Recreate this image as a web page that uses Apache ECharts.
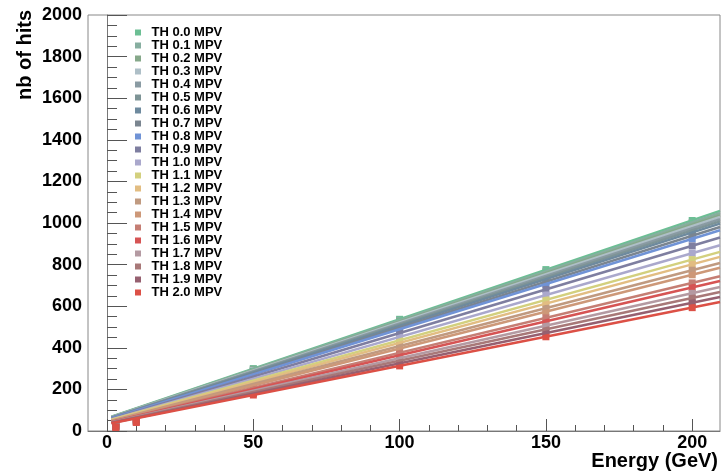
<!DOCTYPE html>
<html><head><meta charset="utf-8">
<script src="https://cdn.jsdelivr.net/npm/echarts@6/dist/echarts.min.js"></script>
<style>html,body{margin:0;padding:0;background:#fff}#c{width:722px;height:473px}</style>
</head><body><div id="c"></div>
<script>
const energies = [3, 10, 50, 100, 150, 200];
const thresholds = ['TH 0.0 MPV','TH 0.1 MPV','TH 0.2 MPV','TH 0.3 MPV','TH 0.4 MPV','TH 0.5 MPV','TH 0.6 MPV','TH 0.7 MPV','TH 0.8 MPV','TH 0.9 MPV','TH 1.0 MPV','TH 1.1 MPV','TH 1.2 MPV','TH 1.3 MPV','TH 1.4 MPV','TH 1.5 MPV','TH 1.6 MPV','TH 1.7 MPV','TH 1.8 MPV','TH 1.9 MPV','TH 2.0 MPV'];
const colors = ['#6cbf94','#87aea0','#86a88a','#aebfc7','#8a9ba3','#7e9496','#6e8a9e','#7a8590','#7093d6','#7e7ea0','#aaa8cc','#d3d07e','#e2bd82','#c09a80','#cd9878','#c57e74','#d65454','#b49aa2','#a87878','#966070','#dc5046'];
// hits per threshold at the energies above
const th00 = [45, 90, 300, 537, 776, 1012];
const th01 = [44, 89, 297, 532, 768, 1003];
const th02 = [43, 87, 293, 526, 759, 993];
const th03 = [42, 86, 291, 522, 754, 985];
const th04 = [41, 84, 287, 516, 745, 974];
const th05 = [40, 83, 284, 511, 738, 965];
const th06 = [39, 81, 281, 505, 730, 954];
const th07 = [38, 79, 276, 497, 718, 939];
const th08 = [37, 77, 271, 489, 706, 924];
const th09 = [35, 74, 262, 471, 681, 890];
const th10 = [33, 70, 251, 452, 654, 855];
const th11 = [31, 67, 242, 436, 630, 824];
const th12 = [29, 64, 235, 424, 612, 801];
const th13 = [28, 61, 226, 409, 591, 773];
const th14 = [26, 58, 219, 397, 574, 751];
const th15 = [24, 55, 208, 376, 544, 712];
const th16 = [22, 52, 201, 364, 527, 690];
const th17 = [21, 49, 193, 350, 506, 662];
const th18 = [20, 47, 187, 338, 489, 639];
const th19 = [18, 44, 180, 325, 471, 616];
const th20 = [17, 41, 173, 313, 453, 593];
const hits = [th00,th01,th02,th03,th04,th05,th06,th07,th08,th09,th10,th11,th12,th13,th14,th15,th16,th17,th18,th19,th20];
// linear fit lines: value at fit start and end energy
const fitRange = [1.5, 209.5];
const fitStart = [69, 68, 67, 66, 65, 64, 63, 62, 61, 58, 56, 54, 52, 49, 47, 45, 43, 42, 41, 38, 37];
const fitEnd = [1058, 1048, 1037, 1029, 1018, 1008, 997, 981, 965, 930, 893, 861, 837, 808, 785, 744, 721, 692, 668, 644, 620];
const xTicks = [0, 50, 100, 150, 200];
const yTicks = [0, 200, 400, 600, 800, 1000, 1200, 1400, 1600, 1800, 2000];

const FONT = 'Liberation Sans, Arial, Helvetica, sans-serif';
const series = [];
thresholds.forEach((name, i) => {
  series.push({
    type: 'line', name: name + ' fit', xAxisIndex: 0, yAxisIndex: 0,
    data: [[fitRange[0], fitStart[i]], [fitRange[1], fitEnd[i]]],
    showSymbol: false, symbol: 'none', silent: true,
    lineStyle: { color: colors[i], width: 2.5 }, itemStyle: { color: colors[i] },
    animation: false
  });
  series.push({
    type: 'scatter', name: name, xAxisIndex: 0, yAxisIndex: 0,
    data: energies.map((e, k) => [e, hits[i][k]]),
    symbol: 'rect', symbolSize: 7,
    itemStyle: { color: colors[i], opacity: 1 },
    animation: false
  });
});

const plain = v => String(v);
const chart = echarts.init(document.getElementById('c'), null, { renderer: 'canvas' });
chart.setOption({
  backgroundColor: '#fff',
  animation: false,
  grid: [
    { left: 88, right: 2, top: 15, bottom: 42, show: true, borderColor: '#888', borderWidth: 1, backgroundColor: 'transparent' },
    { left: 107.02, right: 29.8, top: 15, bottom: 42, show: false }
  ],
  xAxis: [
    { type: 'value', gridIndex: 0, min: -6.5, max: 209.5,
      axisLine: { show: true, lineStyle: { color: '#777', width: 1 } },
      axisTick: { show: false }, axisLabel: { show: false }, splitLine: { show: false } },
    { type: 'value', gridIndex: 1, min: xTicks[0], max: xTicks[xTicks.length - 1], interval: 50,
      axisLine: { show: false },
      axisTick: { show: true, inside: true, length: 12, lineStyle: { color: '#555', width: 1 } },
      minorTick: { show: true, splitNumber: 5, length: 6, lineStyle: { color: '#555', width: 1 } },
      axisLabel: { show: true, margin: 3, fontFamily: FONT, fontWeight: 'bold', fontSize: 18, color: '#000', formatter: plain },
      splitLine: { show: false } }
  ],
  yAxis: [
    { type: 'value', gridIndex: 0, min: yTicks[0], max: yTicks[yTicks.length - 1], interval: 200,
      axisLine: { show: true, lineStyle: { color: '#777', width: 1 } },
      axisTick: { show: true, inside: true, length: 20, lineStyle: { color: '#555', width: 1 } },
      minorTick: { show: true, splitNumber: 4, length: 10, lineStyle: { color: '#555', width: 1 } },
      axisLabel: { show: true, margin: 6, fontFamily: FONT, fontWeight: 'bold', fontSize: 18, color: '#000', formatter: plain },
      splitLine: { show: false } },
    { type: 'value', gridIndex: 1, min: 0, max: 2000, show: false }
  ],
  legend: {
    orient: 'vertical', left: 130, top: 21, itemGap: 0,
    itemWidth: 17, itemHeight: 6,
    icon: 'path://M0,0H1V1H0Z',
    data: thresholds,
    textStyle: { fontFamily: FONT, fontWeight: 'bold', fontSize: 13, color: '#000', lineHeight: 13 },
    selectedMode: false
  },
  graphic: [
    { type: 'text', right: 4, top: 451, style: { text: 'Energy (GeV)', fontFamily: FONT, fontWeight: 'bold', fontSize: 20, fill: '#000' } },
    { type: 'text', x: 15, y: 10, rotation: Math.PI / 2, style: { text: 'nb of hits', fontFamily: FONT, fontWeight: 'bold', fontSize: 20, fill: '#000', align: 'right', verticalAlign: 'top' } }
  ],
  series: series
});
</script></body></html>
